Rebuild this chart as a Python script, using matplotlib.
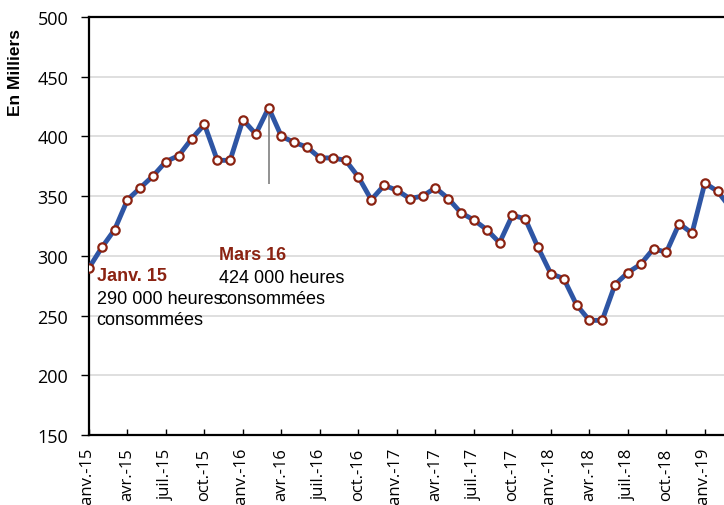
import numpy as np
import matplotlib.pyplot as plt

# Heures consommées par mois (en milliers), janv. 2015 -> mars 2019
heures = [290, 307, 322, 347, 357, 367, 379, 384, 398, 410, 380, 380,
          414, 402, 424, 400, 395, 391, 382, 382, 380, 366, 347, 359,
          355, 348, 350, 357, 348, 336, 330, 322, 311, 334, 331, 307,
          285, 281, 259, 246, 246, 276, 286, 293, 306, 303, 327, 319,
          361, 354, 340]
mois = ["janv.", "févr.", "mars", "avr.", "mai", "juin",
        "juil.", "août", "sept.", "oct.", "nov.", "déc."]
annees = [15, 16, 17, 18, 19]
etiquettes = [f"{mois[i % 12]}-{annees[i // 12]}" for i in range(len(heures))]

x = np.arange(len(heures))
bleu = "#2E55A4"
rouge = "#8B2312"

fig = plt.figure(figsize=(7.24, 5.06), dpi=100)
ax = fig.add_axes([89 / 724, 70 / 506, (52 * 12.83) / 724, 418 / 506])

ax.plot(x, heures, color=bleu, lw=3.5, solid_joinstyle="round", zorder=3)
ax.plot(x, heures, ls="none", marker="o", ms=6, mfc="white", mec=rouge,
        mew=1.6, zorder=4)

ax.set_ylim(150, 500)
ax.set_xlim(0, 52)
ax.set_yticks(range(150, 501, 50))
ax.grid(axis="y", color="#D9D9D9", lw=1.2, zorder=0)
ax.set_axisbelow(True)

ticks = x[::3]
ax.set_xticks(ticks)
ax.set_xticklabels([etiquettes[i] for i in ticks], rotation=90,
                   fontsize=12, family="Open Sans", va="top")
ax.tick_params(axis="x", direction="in", length=4, width=1, pad=9)
ax.tick_params(axis="y", direction="out", length=6, width=1, pad=9,
               labelsize=13)
for lab in ax.get_yticklabels():
    lab.set_family("Open Sans")

for side in ["left", "bottom", "top"]:
    ax.spines[side].set_linewidth(1.6)
ax.spines["right"].set_visible(False)

fig.text(16 / 724, 1 - 72 / 506, "En Milliers", rotation=90, ha="center",
         va="center", fontsize=12.5, fontweight="bold", family="Liberation Sans")

# Titre (coupé en haut)
fig.text(375 / 724, 1.022, "(année glissée)", ha="center", va="center",
         fontsize=16, fontweight="bold", color="#4472C4", family="Liberation Sans")

# Annotations
def note(xi, yv, titre, corps):
    ax.text(xi, yv, titre, color=rouge, fontweight="bold", fontsize=13,
            family="Liberation Sans", va="top")
    ax.annotate(corps, xy=(xi, yv), xytext=(0, -23), textcoords="offset pixels",
                fontsize=13, family="Liberation Sans", va="top", linespacing=1.3)

imax = int(np.argmax(heures))
ax.vlines(imax, 360, heures[imax], color="#7F7F7F", lw=1.2, zorder=2)
note(10.1, 308, "Mars 16", f"{heures[imax]} 000 heures\nconsommées")
note(0.6, 290.5, "Janv. 15", f"{heures[0]} 000 heures\nconsommées")

fig.savefig("out.png", dpi=100)
